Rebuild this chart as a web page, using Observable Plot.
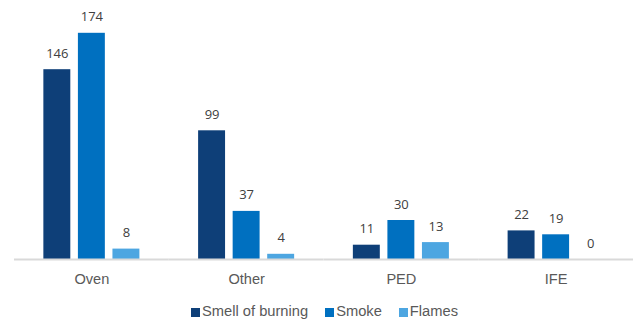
<!DOCTYPE html>
<html>
<head>
<meta charset="utf-8">
<script src="https://cdn.jsdelivr.net/npm/d3@7"></script>
<script src="https://cdn.jsdelivr.net/npm/@observablehq/plot@0.6"></script>
<style>
  body { margin: 0; background: #fff; }
  #wrap { position: relative; width: 633px; height: 320px; }
  #legend { position: absolute; left: 191px; top: 303px; display: flex; align-items: center;
            font-family: "Liberation Sans", Arial, sans-serif; font-size: 14.7px; color: #595959; line-height: 17px; }
  .item { display: flex; align-items: center; margin-right: 17px; }
  .sw { width: 9px; height: 9px; margin-right: 2px; margin-top: 1px; }
</style>
</head>
<body>
<div id="wrap"></div>
<script>
const categories = ["Oven", "Other", "PED", "IFE"];
const series = ["Smell of burning", "Smoke", "Flames"];
const smellOfBurning = [146, 99, 11, 22];
const smoke = [174, 37, 30, 19];
const flames = [8, 4, 13, 0];
const colors = ["#0e3f78", "#0070c0", "#4da6e1"];

const valuesBySeries = [smellOfBurning, smoke, flames];
const data = [];
categories.forEach((c, i) => series.forEach((s, j) => data.push({category: c, series: s, value: valuesBySeries[j][i]})));

const chart = Plot.plot({
  width: 633,
  height: 320,
  marginLeft: 14,
  marginRight: 0,
  marginTop: 25,
  marginBottom: 61,
  fx: {domain: categories, padding: 0, label: null, round: false},
  x: {domain: series, paddingInner: 0.22, paddingOuter: 0.85, axis: null, round: false},
  y: {domain: [0, 180], axis: null},
  color: {domain: series, range: colors},
  style: {fontFamily: "Liberation Sans, Arial, sans-serif"},
  marks: [
    Plot.barY(data, {fx: "category", x: "series", y: "value", fill: "series"}),
    Plot.ruleY([0], {stroke: "#d9d9d9", strokeWidth: 2}),
    Plot.text(data, {fx: "category", x: "series", y: "value", text: d => String(d.value),
      lineAnchor: "bottom", dy: -12, fill: "#404040", fontSize: 13, fontFamily: "Open Sans, sans-serif"}),
    Plot.axisFx({anchor: "bottom", tickSize: 0, tickPadding: 14, fontSize: 14.6, fill: "#595959", label: null})
  ]
});
document.getElementById("wrap").appendChild(chart);

const legend = document.createElement("div");
legend.id = "legend";
series.forEach((s, j) => {
  const item = document.createElement("div");
  item.className = "item";
  const sw = document.createElement("div");
  sw.className = "sw";
  sw.style.background = colors[j];
  const t = document.createElement("span");
  t.textContent = s;
  item.appendChild(sw);
  item.appendChild(t);
  legend.appendChild(item);
});
document.getElementById("wrap").appendChild(legend);
</script>
</body>
</html>
